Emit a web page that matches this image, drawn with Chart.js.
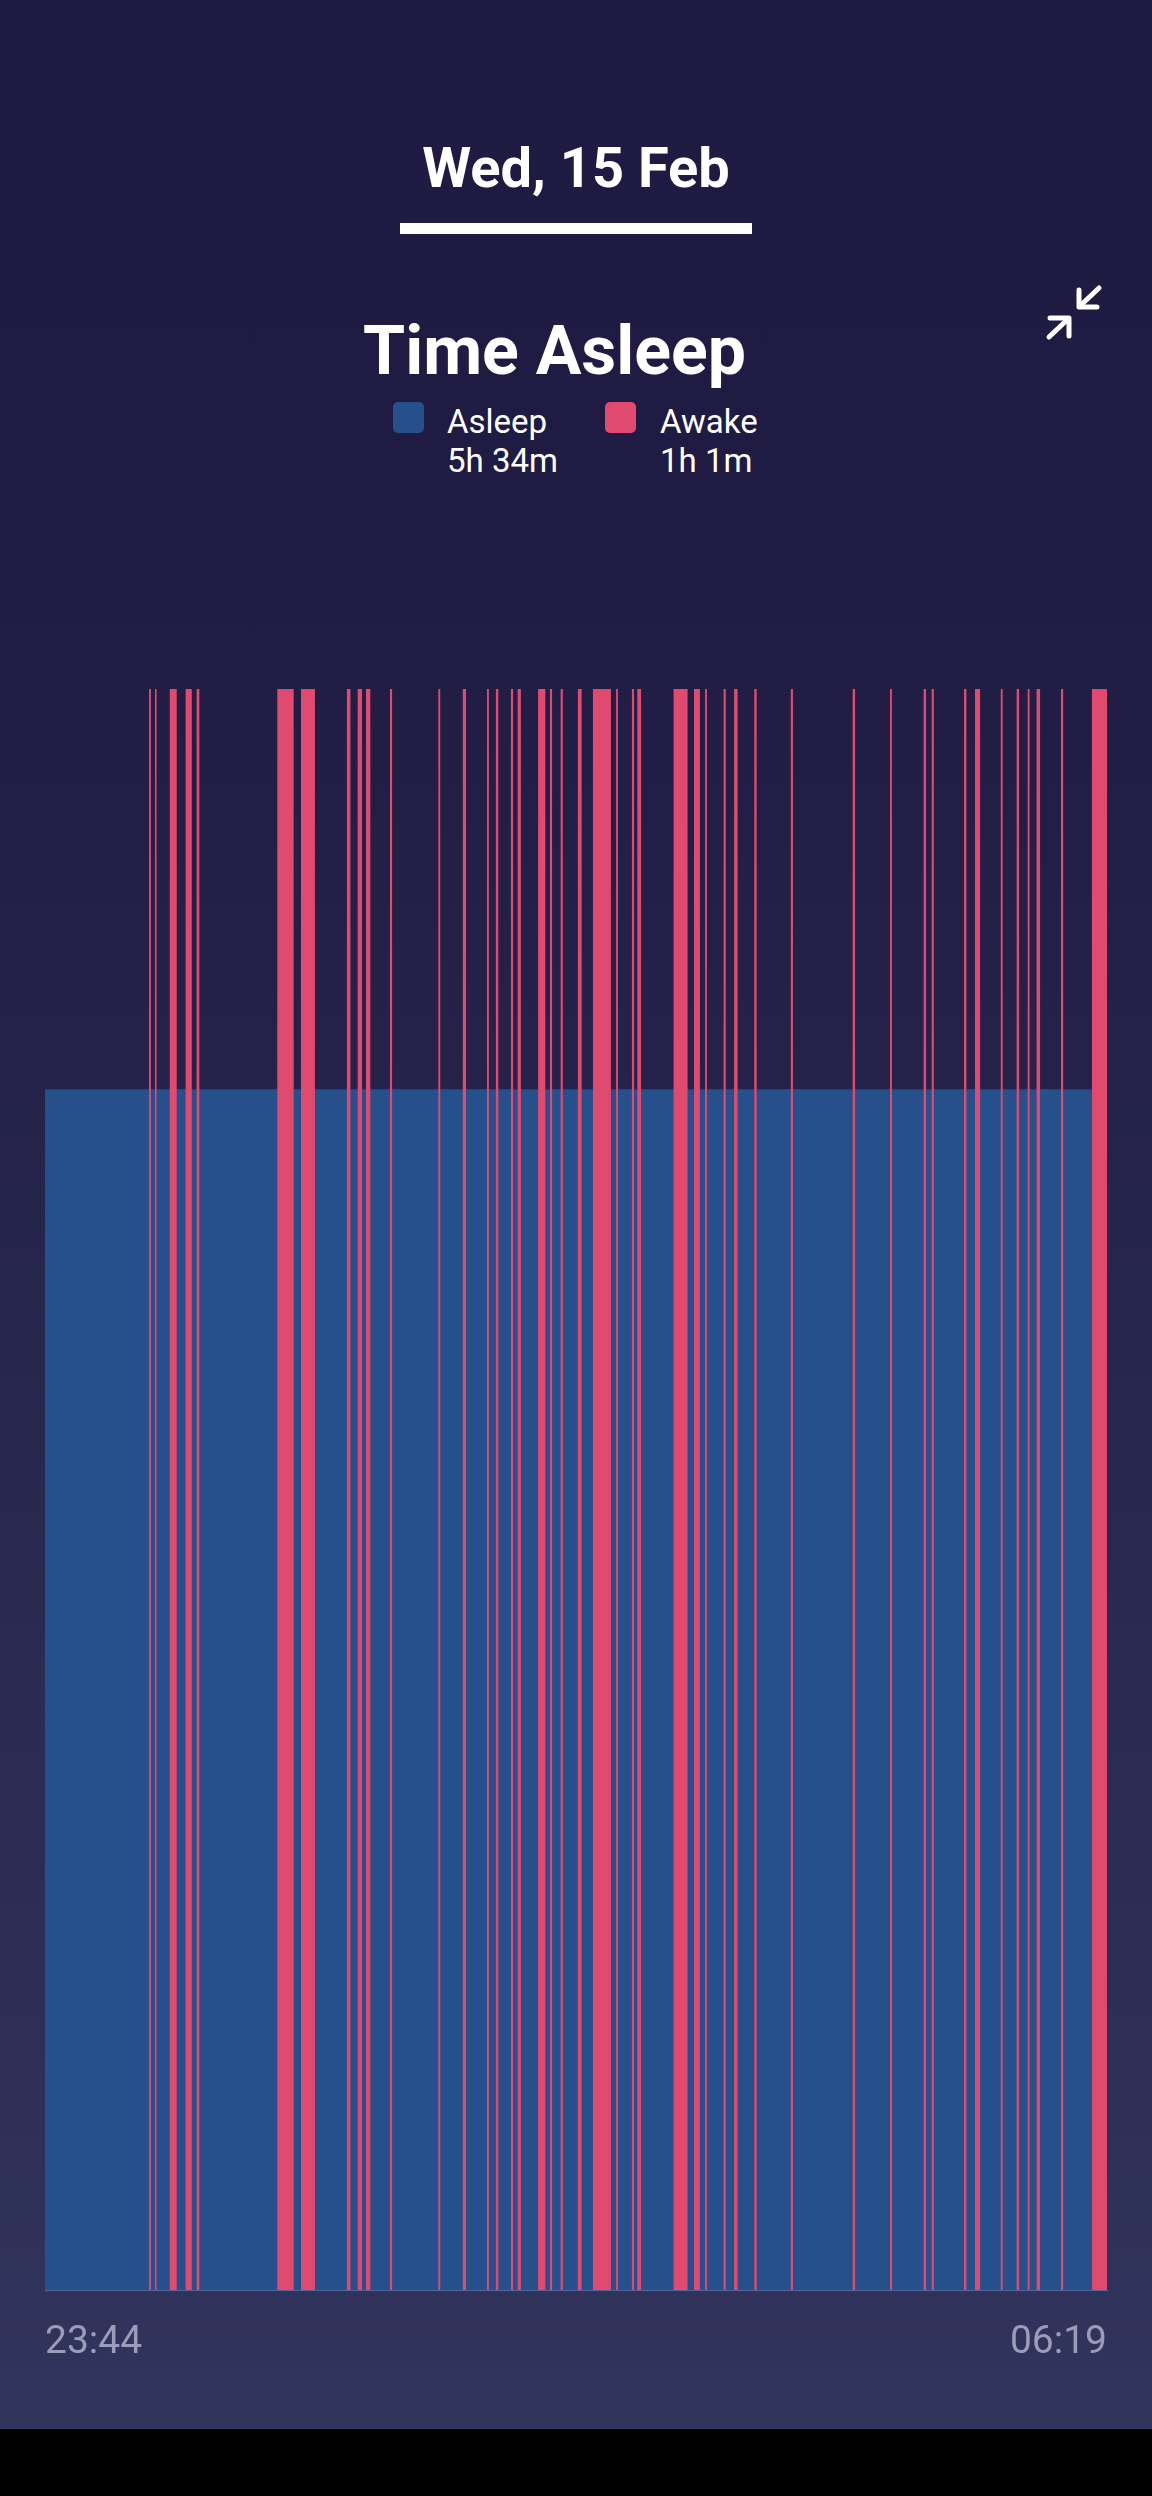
<!DOCTYPE html>
<html>
<head>
<meta charset="utf-8">
<script src="https://cdn.jsdelivr.net/npm/chart.js@4"></script>
<style>
  html, body { margin: 0; padding: 0; }
  body {
    width: 1152px; height: 2496px; position: relative; overflow: hidden;
    font-family: Roboto, "Noto Sans", sans-serif; color: #fff;
    background: linear-gradient(to bottom, #1e1a41 0px, #1f1b42 500px, #31345c 2429px, #000 2429px, #000 2496px);
  }
  .date { position: absolute; left: 0; width: 1152px; top: 140px; text-align: center;
          font-size: 56px; font-weight: 700; line-height: 1; }
  .underline { position: absolute; left: 400px; top: 223px; width: 352px; height: 11px; background: #fff; }
  .title { position: absolute; left: 0; width: 1109px; top: 317px; text-align: center;
           font-size: 68px; font-weight: 700; line-height: 1; }
  .icon { position: absolute; left: 1030px; top: 270px; }
  .lg-box { position: absolute; top: 402px; width: 31px; height: 31px; border-radius: 5px; }
  .lg-text { position: absolute; top: 402px; font-size: 33px; line-height: 39px; }
  #wrap { position: absolute; left: 0; top: 689px; width: 1152px; height: 1708px; }
</style>
</head>
<body>
<div class="date">Wed, 15 Feb</div>
<div class="underline"></div>
<div class="title">Time Asleep</div>
<svg class="icon" width="90" height="90" viewBox="1030 270 90 90">
  <g stroke="#fff" stroke-width="5" stroke-linecap="round" stroke-linejoin="round" fill="none">
    <line x1="1099" y1="288" x2="1081" y2="305"/>
    <polyline points="1079,290 1079,307 1097,307"/>
    <line x1="1049" y1="337" x2="1067" y2="320"/>
    <polyline points="1050,318 1069,318 1069,336"/>
  </g>
</svg>
<div class="lg-box" style="left:393px;background:#25508b"></div>
<div class="lg-text" style="left:447px">Asleep<br>5h 34m</div>
<div class="lg-box" style="left:605px;background:#e04a6e"></div>
<div class="lg-text" style="left:660px">Awake<br>1h 1m</div>

<div id="wrap"><canvas id="sleepChart"></canvas></div>

<script>
// minutes after 23:44 (bedtime) - 06:19 is 395 minutes later
const totalMinutes = 395;
const tickLabels = ['23:44', '06:19'];

const awakeStart = [38.7, 40.9, 46.4, 52.3, 56.4, 86.4, 95.2, 112.3, 116.3, 119.4, 128.3,
  146.3, 155.4, 164.4, 167.7, 173.3, 175.8, 183.4, 187.8, 191.8, 198.2, 203.8, 212.4,
  218.3, 220.3, 233.8, 241.4, 245.5, 252.4, 256.3, 263.8, 277.4, 300.4, 314.3, 326.8,
  329.8, 341.8, 345.9, 355.5, 361.4, 365.5, 368.8, 377.9, 389.4];
const awakeEnd = [39.4, 41.5, 49.0, 54.6, 57.4, 92.5, 100.4, 113.6, 117.9, 121.0, 129.1,
  147.0, 156.6, 165.1, 168.6, 174.1, 177.0, 186.1, 188.6, 192.6, 199.6, 210.5, 213.1,
  219.1, 221.7, 239.0, 243.6, 246.2, 253.2, 257.6, 264.7, 278.2, 301.3, 315.0, 327.7,
  330.6, 342.7, 347.8, 356.2, 362.3, 366.2, 370.1, 378.7, 395.0];

// stage heights on the hidden y axis
const asleepLevel = 1.5;
const awakeLevel = 2;

// step points: each value holds until the next point
const awakePoints = [{ x: 0, y: 0 }];
awakeStart.forEach((s, i) => {
  awakePoints.push({ x: s, y: awakeLevel });
  awakePoints.push({ x: awakeEnd[i], y: 0 });
});
const asleepPoints = [
  { x: 0, y: asleepLevel },
  { x: awakeStart[awakeStart.length - 1], y: 0 }
];

const ctx = document.getElementById('sleepChart').getContext('2d');

new Chart(ctx, {
  type: 'line',
  data: {
    datasets: [
      {
        label: 'Awake',
        data: awakePoints,
        stepped: true,
        fill: 'origin',
        backgroundColor: '#e04a6e',
        borderWidth: 0,
        pointRadius: 0,
        order: 0
      },
      {
        label: 'Asleep',
        data: asleepPoints,
        stepped: true,
        fill: 'origin',
        backgroundColor: '#25508b',
        borderWidth: 0,
        pointRadius: 0,
        order: 1
      }
    ]
  },
  options: {
    responsive: true,
    maintainAspectRatio: false,
    animation: false,
    layout: { padding: { left: 45, right: 45, top: 0, bottom: 0 } },
    plugins: {
      legend: { display: false },
      title: { display: false },
      tooltip: { enabled: false }
    },
    scales: {
      x: {
        type: 'linear',
        min: 0,
        max: totalMinutes,
        afterBuildTicks: (scale) => { scale.ticks = [{ value: 0 }, { value: totalMinutes }]; },
        ticks: {
          autoSkip: false,
          maxRotation: 0,
          align: 'inner',
          padding: 30,
          color: '#9a9cb9',
          font: { family: 'Roboto', size: 39 },
          callback: (v, i) => tickLabels[i]
        },
        grid: { display: false, drawTicks: false },
        border: { display: true, color: 'rgba(110,140,195,0.6)', width: 1 }
      },
      y: {
        display: false,
        min: 0,
        max: awakeLevel
      }
    }
  }
});
</script>
</body>
</html>
